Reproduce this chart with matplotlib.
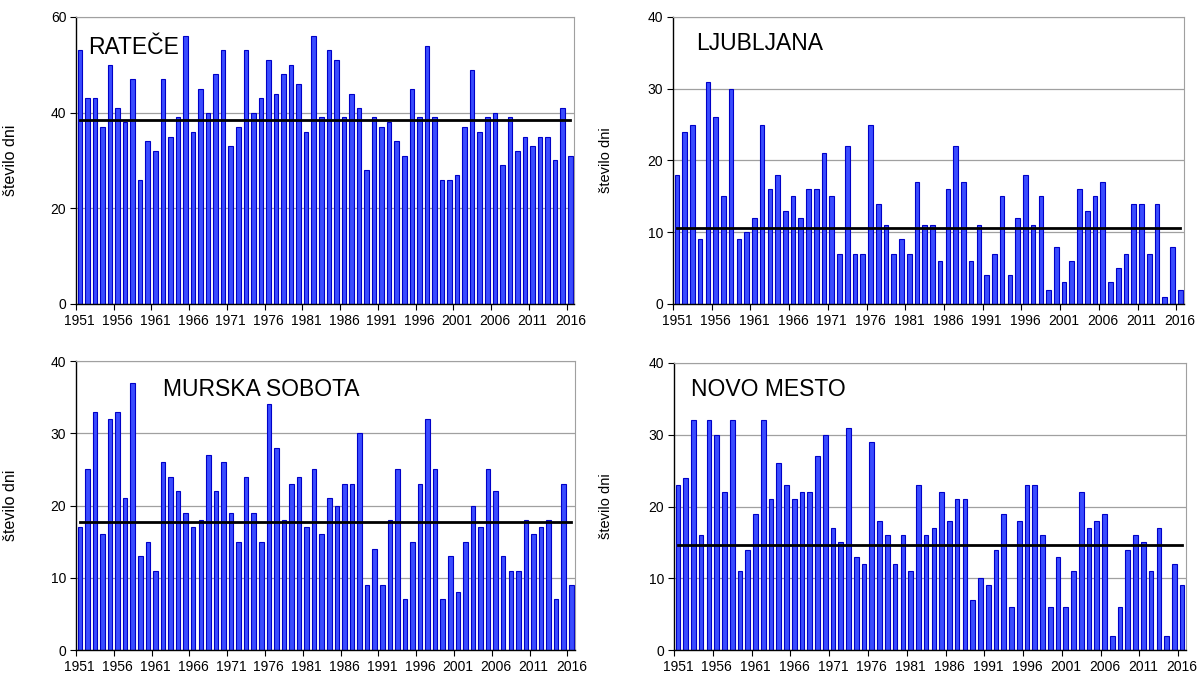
"""Number of days per year 1951-2016 at four Slovenian stations, with long-term mean."""

import numpy as np
import matplotlib
matplotlib.use("Agg")
import matplotlib.pyplot as plt

plt.rcParams['font.family'] = ['Liberation Sans', 'DejaVu Sans']

years = list(range(1951, 2017))
tick_years = list(range(1951, 2017, 5))

## values
ratece = [53, 43, 43, 37, 50, 41, 38, 47, 26, 34, 32, 47, 35, 39, 56, 36, 45, 40, 48, 53,
          33, 37, 53, 40, 43, 51, 44, 48, 50, 46, 36, 56, 39, 53, 51, 39, 44, 41, 28, 39,
          37, 38, 34, 31, 45, 39, 54, 39, 26, 26, 27, 37, 49, 36, 39, 40, 29, 39, 32, 35,
          33, 35, 35, 30, 41, 31]
ljubljana = [18, 24, 25, 9, 31, 26, 15, 30, 9, 10, 12, 25, 16, 18, 13, 15, 12, 16, 16, 21,
             15, 7, 22, 7, 7, 25, 14, 11, 7, 9, 7, 17, 11, 11, 6, 16, 22, 17, 6, 11,
             4, 7, 15, 4, 12, 18, 11, 15, 2, 8, 3, 6, 16, 13, 15, 17, 3, 5, 7, 14,
             14, 7, 14, 1, 8, 2]
murska_sobota = [17, 25, 33, 16, 32, 33, 21, 37, 13, 15, 11, 26, 24, 22, 19, 17, 18, 27, 22, 26,
                 19, 15, 24, 19, 15, 34, 28, 18, 23, 24, 17, 25, 16, 21, 20, 23, 23, 30, 9, 14,
                 9, 18, 25, 7, 15, 23, 32, 25, 7, 13, 8, 15, 20, 17, 25, 22, 13, 11, 11, 18,
                 16, 17, 18, 7, 23, 9]
novo_mesto = [23, 24, 32, 16, 32, 30, 22, 32, 11, 14, 19, 32, 21, 26, 23, 21, 22, 22, 27, 30,
              17, 15, 31, 13, 12, 29, 18, 16, 12, 16, 11, 23, 16, 17, 22, 18, 21, 21, 7, 10,
              9, 14, 19, 6, 18, 23, 23, 16, 6, 13, 6, 11, 22, 17, 18, 19, 2, 6, 14, 16,
              15, 11, 17, 2, 12, 9]

## mean lines as drawn in the reference
means = [38.5, 10.6, 17.7, 14.7]
names = ["RATEČE", "LJUBLJANA", "MURSKA SOBOTA", "NOVO MESTO"]
series = [ratece, ljubljana, murska_sobota, novo_mesto]
ymax = [60, 40, 40, 40]
ystep = [20, 10, 10, 10]

# axes boxes (fig fractions) and title / ylabel placement
boxes = [[0.0633, 0.5523, 0.4147, 0.4227],
         [0.5604, 0.5523, 0.4255, 0.4227],
         [0.0633, 0.0427, 0.4155, 0.4256],
         [0.5612, 0.0427, 0.4263, 0.4227]]
title_xy = [(0.024, 0.895), (0.045, 0.909), (0.174, 0.90), (0.033, 0.909)]
ylab_x = [-0.116, -0.117, -0.116, -0.119]
ylab_size = [11.5, 10.5, 11.5, 10.5]

fig = plt.figure(figsize=(12.01, 6.79), dpi=100)

for k in range(4):
    ax = fig.add_axes(boxes[k])
    x = np.arange(len(years))
    ax.bar(x, series[k], width=0.6, color='#3a4cff', edgecolor='#0000c8',
           linewidth=0.8, zorder=2)
    ax.plot([x[0], x[-1]], [means[k], means[k]], color='black', lw=2, zorder=3)

    ax.set_xlim(-0.5, len(years) - 0.5)
    ax.set_ylim(0, ymax[k])
    ax.set_yticks(np.arange(0, ymax[k] + 1, ystep[k]))
    ax.grid(axis='y', color='#a0a0a0', lw=0.9, zorder=0)

    # tick marks at category boundaries, labels under the bars
    idx = [years.index(y) for y in tick_years]
    ax.set_xticks([i - 0.5 for i in idx])
    ax.set_xticklabels([])
    ax.set_xticks(idx, minor=True)
    ax.set_xticklabels([str(y) for y in tick_years], minor=True, fontsize=10)
    ax.tick_params(axis='x', which='minor', length=0, pad=7)
    ax.tick_params(axis='x', which='major', length=4, direction='out', color='black')
    ax.tick_params(axis='y', length=4, direction='out', labelsize=10, pad=3)

    for s in ['top', 'right']:
        ax.spines[s].set_color('#a0a0a0')
    for s in ['left', 'bottom']:
        ax.spines[s].set_color('black')
        ax.spines[s].set_linewidth(1.0)

    ax.set_ylabel("število dni", fontsize=ylab_size[k])
    ax.yaxis.set_label_coords(ylab_x[k], 0.5)
    ax.text(title_xy[k][0], title_xy[k][1], names[k], transform=ax.transAxes,
            fontsize=16.5, va='center', ha='left', zorder=4)

plt.savefig("out.png", dpi=100)
